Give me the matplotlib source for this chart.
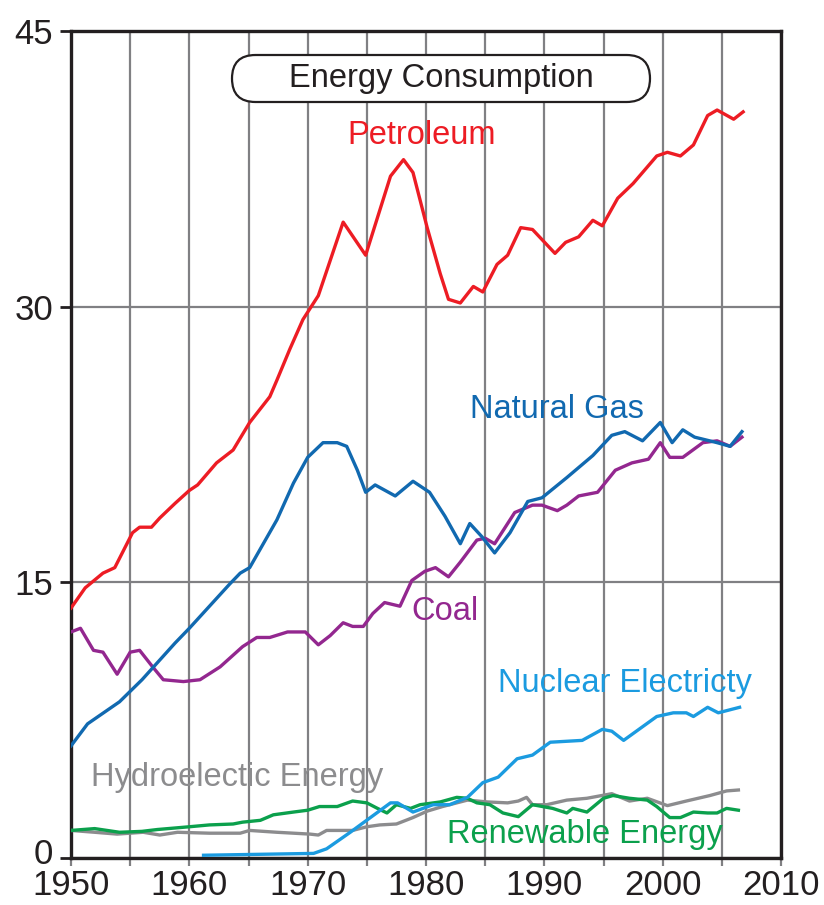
import matplotlib
matplotlib.use("Agg")
import matplotlib.pyplot as plt
from matplotlib import font_manager
from matplotlib.patches import FancyBboxPatch
from matplotlib.transforms import ScaledTranslation

# -------------------------------
# Data
# -------------------------------
petroleum_years = [1950, 1951.2, 1952.7, 1953.7, 1955.2, 1955.8, 1956.8, 1957.5, 1958.8, 1960,
                   1960.7, 1962.3, 1963.7, 1965.1, 1966.8, 1967.4, 1968.5, 1969.6, 1970.9, 1973,
                   1974.9, 1977, 1978.1, 1978.9, 1980.1, 1981.2, 1981.9, 1982.9, 1984, 1984.8,
                   1986, 1986.9, 1988, 1989, 1990.9, 1991.8, 1992.9, 1994.1, 1994.9, 1996.2,
                   1997.5, 1999.5, 2000.4, 2001.5, 2002.6, 2003.8, 2004.6, 2006, 2006.8]
petroleum = [13.6, 14.7, 15.5, 15.8, 17.7, 18.0, 18.0, 18.5, 19.3, 20.0,
             20.3, 21.5, 22.2, 23.7, 25.1, 26.0, 27.7, 29.3, 30.6, 34.6,
             32.8, 37.1, 38.0, 37.3, 34.3, 31.8, 30.4, 30.2, 31.1, 30.8,
             32.3, 32.8, 34.3, 34.2, 32.9, 33.5, 33.8, 34.7, 34.4, 35.9,
             36.7, 38.2, 38.4, 38.2, 38.8, 40.4, 40.7, 40.2, 40.6]

gas_years = [1950, 1951.4, 1954.1, 1956, 1958.8, 1960, 1961.7, 1963.4, 1964.3, 1965.1,
             1967.4, 1968.8, 1970, 1971.3, 1972.5, 1973.3, 1974.2, 1974.9, 1975.7, 1977.4,
             1978.9, 1980.3, 1981.6, 1982.9, 1983.7, 1984.7, 1985.8, 1987.1, 1988.6, 1989.8,
             1991.9, 1994.1, 1995.7, 1996.8, 1998.3, 1999.8, 2000.8, 2001.7, 2002.7, 2004.6,
             2005.7, 2006.7]
natural_gas = [6.1, 7.3, 8.5, 9.7, 11.7, 12.5, 13.7, 14.9, 15.5, 15.8,
               18.4, 20.4, 21.8, 22.6, 22.6, 22.4, 21.1, 19.9, 20.3, 19.7,
               20.5, 19.9, 18.6, 17.1, 18.2, 17.5, 16.6, 17.7, 19.4, 19.6,
               20.7, 21.9, 23.0, 23.2, 22.7, 23.7, 22.6, 23.3, 22.9, 22.6,
               22.4, 23.2]

coal_years = [1950, 1950.8, 1951.9, 1952.7, 1953.9, 1955, 1955.8, 1956.9, 1957.8, 1959.5,
              1960.9, 1962.6, 1964.5, 1965.7, 1966.8, 1968.3, 1969.8, 1970.9, 1971.9, 1973,
              1973.8, 1974.7, 1975.5, 1976.5, 1977.8, 1978.8, 1979.9, 1980.8, 1981.9, 1982.9,
              1984.3, 1985, 1985.8, 1987.5, 1989, 1989.8, 1991.1, 1991.9, 1992.9, 1994.5,
              1996, 1997.4, 1998.8, 1999.8, 2000.6, 2001.7, 2003.4, 2004.6, 2005.7, 2006.7]
coal = [12.3, 12.5, 11.3, 11.2, 10.0, 11.2, 11.3, 10.4, 9.7, 9.6,
        9.7, 10.4, 11.5, 12.0, 12.0, 12.3, 12.3, 11.6, 12.1, 12.8,
        12.6, 12.6, 13.3, 13.9, 13.7, 15.1, 15.6, 15.8, 15.3, 16.1,
        17.3, 17.4, 17.1, 18.8, 19.2, 19.2, 18.9, 19.2, 19.7, 19.9,
        21.1, 21.5, 21.7, 22.6, 21.8, 21.8, 22.6, 22.7, 22.4, 22.9]

nuclear_years = [1961.2, 1970.5, 1971.6, 1973.6, 1975.3, 1977, 1977.6, 1978.9, 1980.6, 1982,
                 1983.5, 1984.8, 1986.1, 1987.7, 1989, 1990.5, 1993.2, 1994.9, 1995.7, 1996.7,
                 1999.5, 2000.9, 2002, 2002.6, 2003.8, 2004.7, 2006.5]
nuclear = [0.15, 0.25, 0.5, 1.4, 2.2, 3.0, 3.0, 2.5, 2.9, 2.9,
           3.3, 4.1, 4.4, 5.4, 5.6, 6.3, 6.4, 7.0, 6.9, 6.4,
           7.7, 7.9, 7.9, 7.7, 8.2, 7.9, 8.2]

hydro_years = [1950, 1952, 1953.9, 1956.1, 1957.5, 1959, 1961.7, 1964.3, 1965.1, 1967.4,
               1970.2, 1970.9, 1971.6, 1973.8, 1975, 1976.1, 1977.5, 1978.9, 1980.1, 1981.4,
               1983.5, 1985.2, 1986.9, 1987.8, 1988.5, 1989, 1990.2, 1991.9, 1993.6, 1995.7,
               1997.2, 1998.7, 2000.4, 2002, 2004, 2005.4, 2006.4]
hydro = [1.5, 1.4, 1.3, 1.4, 1.25, 1.4, 1.35, 1.35, 1.5, 1.4,
         1.3, 1.25, 1.5, 1.5, 1.7, 1.8, 1.85, 2.2, 2.55, 2.8,
         3.15, 3.05, 3.0, 3.1, 3.3, 2.9, 2.9, 3.15, 3.25, 3.5,
         3.1, 3.25, 2.85, 3.1, 3.4, 3.65, 3.7]

renew_years = [1950, 1952, 1954.1, 1956, 1957.3, 1960, 1961.7, 1963.7, 1964.5, 1966,
               1967.1, 1968.8, 1970, 1971, 1972.5, 1973.8, 1975, 1975.9, 1976.7, 1977.5,
               1978.7, 1979.5, 1981.2, 1982.6, 1983.5, 1984.3, 1985.4, 1986.5, 1987.8, 1989,
               1990.7, 1991.9, 1992.4, 1993.6, 1995, 1995.8, 1997.2, 1998.7, 1999.5, 2000.6,
               2001.5, 2002.6, 2003.8, 2004.6, 2005.4, 2006.4]
renewable = [1.5, 1.6, 1.4, 1.45, 1.55, 1.7, 1.8, 1.85, 1.95, 2.05,
             2.35, 2.5, 2.6, 2.8, 2.8, 3.1, 3.0, 2.7, 2.45, 2.9,
             2.7, 2.9, 3.05, 3.3, 3.25, 3.0, 2.9, 2.45, 2.25, 2.9,
             2.7, 2.45, 2.7, 2.5, 3.25, 3.4, 3.25, 3.15, 2.8, 2.2,
             2.2, 2.5, 2.45, 2.45, 2.7, 2.6]

x_ticks = [1950, 1960, 1970, 1980, 1990, 2000, 2010]
y_ticks = [0, 15, 30, 45]

# -------------------------------
# Fonts
# -------------------------------
names = {f.name for f in font_manager.fontManager.ttflist}
label_font = "Liberation Sans" if "Liberation Sans" in names else "DejaVu Sans"
tick_font = "Liberation Sans Narrow" if "Liberation Sans Narrow" in names else label_font

# -------------------------------
# Figure
# -------------------------------
fig = plt.figure(figsize=(8.24, 9.05), dpi=100)
ax = fig.add_axes([71 / 824, 47 / 905, 710 / 824, 827 / 905])

grid_col = "#808083"
ax.set_xlim(1950, 2010)
ax.set_ylim(0, 45)
ax.set_xticks(range(1950, 2010, 5), minor=True)
ax.set_xticks(x_ticks)
ax.set_yticks(y_ticks)
ax.grid(True, which="both", axis="x", color=grid_col, lw=1.6, zorder=0)
ax.grid(True, axis="y", color=grid_col, lw=1.6, zorder=0)
ax.set_axisbelow(True)

for s in ax.spines.values():
    s.set_linewidth(2.4)
    s.set_color("#231f20")

ax.tick_params(axis="x", which="both", length=6, width=1.6, color=grid_col, pad=2)
ax.tick_params(axis="y", length=8, width=2, color="#231f20", pad=5)
ax.set_xticklabels([str(t) for t in x_ticks], fontsize=25, family=tick_font, color="#231f20")
ax.set_yticklabels([str(t) for t in y_ticks], fontsize=25, family=tick_font, color="#231f20")

# nudge the "0" label up a little so it clears "1950"
zero_lbl = ax.get_yticklabels()[0]
zero_lbl.set_transform(zero_lbl.get_transform() + ScaledTranslation(0, 5 / 72, fig.dpi_scale_trans))

lw = 2.4
ax.plot(hydro_years, hydro, color="#8c8c8e", lw=lw, solid_joinstyle="round", zorder=3)
ax.plot(renew_years, renewable, color="#0ba04c", lw=lw, solid_joinstyle="round", zorder=3)
ax.plot(nuclear_years, nuclear, color="#1b9be0", lw=lw, solid_joinstyle="round", zorder=4)
ax.plot(coal_years, coal, color="#93278f", lw=lw, solid_joinstyle="round", zorder=4)
ax.plot(gas_years, natural_gas, color="#1169b0", lw=lw, solid_joinstyle="round", zorder=5)
ax.plot(petroleum_years, petroleum, color="#ed1c24", lw=lw, solid_joinstyle="round", zorder=6)

# series labels
fs = 23.5
ax.text(1979.6, 39.3, "Petroleum", color="#ed1c24", fontsize=fs, family=label_font, ha="center", va="center")
ax.text(1991.1, 24.4, "Natural Gas", color="#1169b0", fontsize=fs, family=label_font, ha="center", va="center")
ax.text(1981.6, 13.4, "Coal", color="#93278f", fontsize=fs, family=label_font, ha="center", va="center")
ax.text(1996.8, 9.5, "Nuclear Electricty", color="#1b9be0", fontsize=fs, family=label_font, ha="center", va="center")
ax.text(1964.0, 4.4, "Hydroelectic Energy", color="#8c8c8e", fontsize=fs, family=label_font, ha="center", va="center")
ax.text(1993.4, 1.3, "Renewable Energy", color="#0ba04c", fontsize=fs, family=label_font, ha="center", va="center")

# title inside a rounded box
box = FancyBboxPatch((2.32, (905 - 102) / 100), 4.18, 0.47,
                     boxstyle="round,pad=0,rounding_size=0.235",
                     transform=fig.dpi_scale_trans, fc="white", ec="#231f20", lw=1.6, zorder=7)
fig.patches.append(box)
fig.text(4.41 / 8.24, (905 - 79) / 905, "Energy Consumption", fontsize=23.5, family=label_font,
         color="#231f20", ha="center", va="center", zorder=8)

fig.savefig("out.png", dpi=100)
